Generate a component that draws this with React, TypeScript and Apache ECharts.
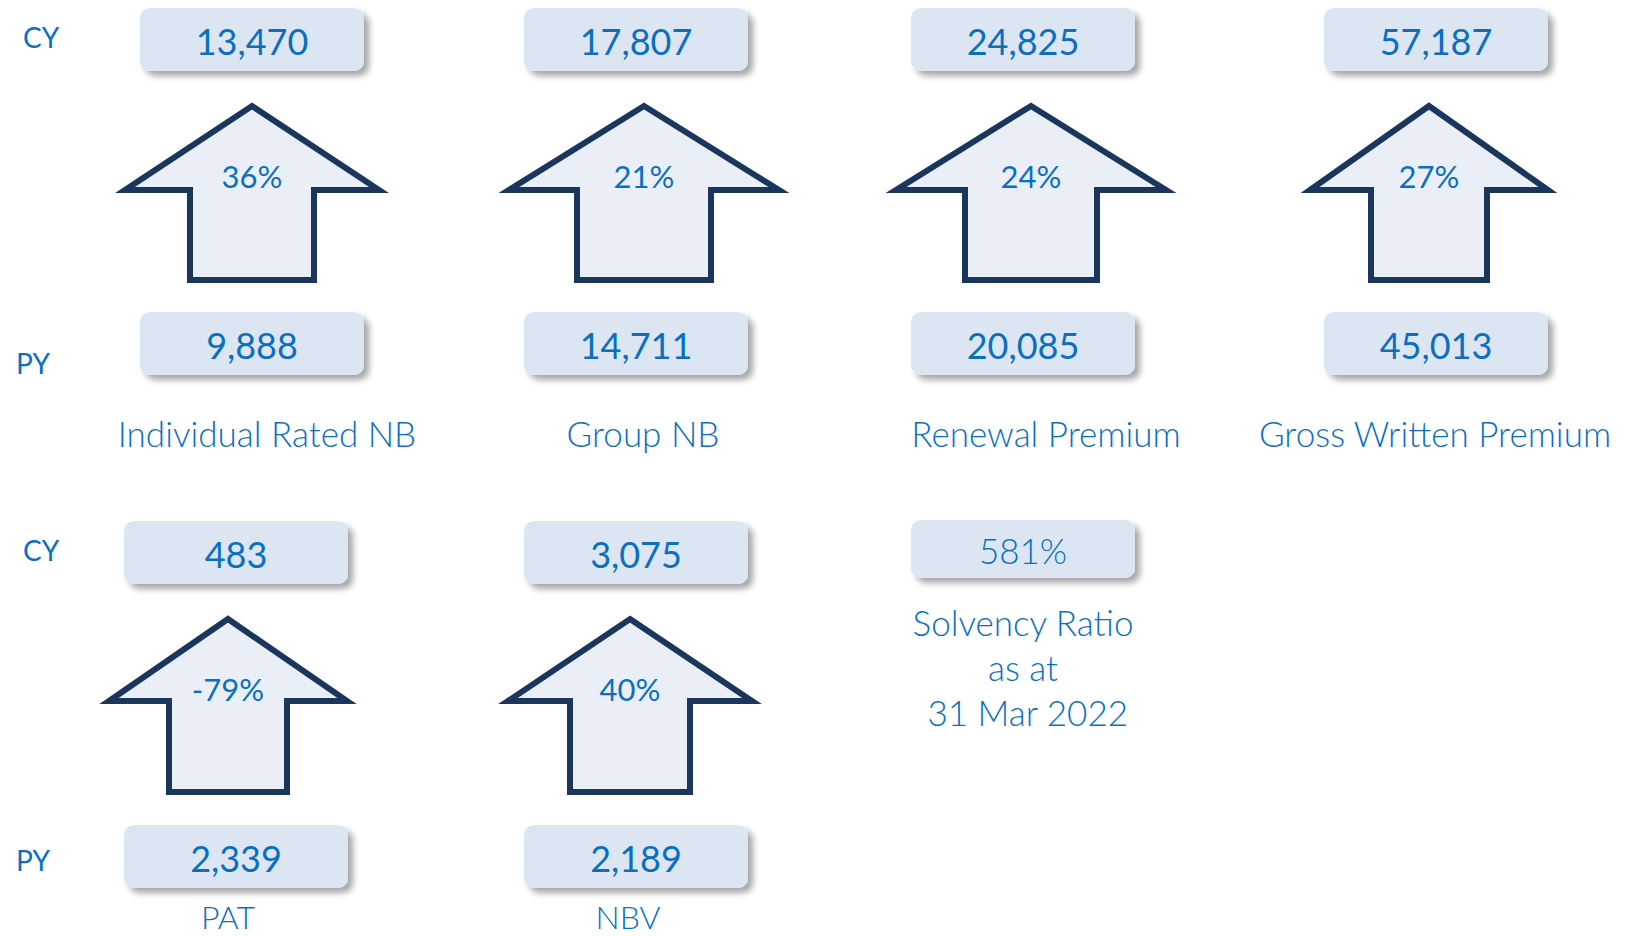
import React, { useEffect, useRef } from "react";
import * as echarts from "echarts";

// ---- data ----
const metricNames = ["Individual Rated NB", "Group NB", "Renewal Premium", "Gross Written Premium", "PAT", "NBV"];
const cyValues = ["13,470", "17,807", "24,825", "57,187", "483", "3,075"];
const pyValues = ["9,888", "14,711", "20,085", "45,013", "2,339", "2,189"];
const changes = ["36%", "21%", "24%", "27%", "-79%", "40%"];
const solvencyValue = "581%";
const solvencyLabel = "Solvency Ratio\nas at\n 31 Mar 2022";
const rowLabels = ["CY", "PY"];

// ---- layout (positions only) ----
const layout = [
  { box: 252, arrow: 252, half: 127, shaft: 62, label: 267, row: 0 },
  { box: 636, arrow: 644, half: 135, shaft: 67, label: 643, row: 0 },
  { box: 1023, arrow: 1031, half: 135, shaft: 66, label: 1046, row: 0 },
  { box: 1436, arrow: 1429, half: 119, shaft: 58, label: 1435, row: 0 },
  { box: 236, arrow: 228, half: 119, shaft: 59, label: 228, row: 1 },
  { box: 636, arrow: 630, half: 122, shaft: 60, label: 628, row: 1 },
];
const rows = [
  { cyTop: 8, pyTop: 312, tip: 106, base: 190, bottom: 280, pct: 176, label: 433, cyLbl: 37, pyLbl: 363 },
  { cyTop: 521, pyTop: 825, tip: 619, base: 701, bottom: 792, pct: 689, label: 916, cyLbl: 550, pyLbl: 860 },
];

const BLUE = "#0a6fc2";
const FONT = "Lato, 'Noto Sans', sans-serif";
const BOX_W = 224;
const BOX_H = 63;

function valueBox(cx: number, top: number, text: string, light = false, h = BOX_H) {
  return [
    {
      type: "rect",
      shape: { x: cx - BOX_W / 2, y: top, width: BOX_W, height: h, r: 10 },
      style: {
        fill: "#dce6f2",
        shadowBlur: 6,
        shadowOffsetX: 5,
        shadowOffsetY: 5,
        shadowColor: "rgba(0,0,0,0.35)",
      },
    },
    {
      type: "text",
      x: cx,
      y: top + h / 2 + 1,
      style: {
        text,
        fill: BLUE,
        font: `${light ? 300 : 400} ${light ? 35 : 36}px ${FONT}`,
        align: "center",
        verticalAlign: "middle",
      },
    },
  ];
}

function arrow(cx: number, half: number, shaft: number, r: any) {
  return {
    type: "polygon",
    shape: {
      points: [
        [cx, r.tip],
        [cx + half, r.base],
        [cx + shaft, r.base],
        [cx + shaft, r.bottom],
        [cx - shaft, r.bottom],
        [cx - shaft, r.base],
        [cx - half, r.base],
      ],
    },
    style: { fill: "#eaeff7", stroke: "#1b365d", lineWidth: 6, lineJoin: "miter", miterLimit: 20 },
  };
}

export default function App() {
  const ref = useRef<HTMLDivElement>(null);
  useEffect(() => {
    document.body.style.margin = "0";
    const chart = echarts.init(ref.current!, null, { renderer: "svg" });
    const elements: any[] = [];
    rows.forEach((r) => {
      elements.push({
        type: "text", x: 23, y: r.cyLbl,
        style: { text: rowLabels[0], fill: BLUE, font: `400 28px ${FONT}`, verticalAlign: "middle" },
      });
      elements.push({
        type: "text", x: 16, y: r.pyLbl,
        style: { text: rowLabels[1], fill: BLUE, font: `400 28px ${FONT}`, verticalAlign: "middle" },
      });
    });
    metricNames.forEach((name, i) => {
      const l = layout[i];
      const r = rows[l.row];
      elements.push(...valueBox(l.box, r.cyTop, cyValues[i]));
      elements.push(...valueBox(l.box, r.pyTop, pyValues[i]));
      elements.push(arrow(l.arrow, l.half, l.shaft, r));
      elements.push({
        type: "text", x: l.arrow, y: r.pct,
        style: { text: changes[i], fill: BLUE, font: `400 31px ${FONT}`, align: "center", verticalAlign: "middle" },
      });
      elements.push({
        type: "text", x: l.label, y: r.label,
        style: { text: name, fill: BLUE, font: `300 ${l.row === 1 ? 32 : 35}px ${FONT}`, align: "center", verticalAlign: "middle" },
      });
    });
    elements.push(...valueBox(1023, 520, solvencyValue, true, 58));
    elements.push({
      type: "text", x: 1023, y: 599,
      style: {
        text: solvencyLabel, fill: BLUE, font: `300 35px ${FONT}`, align: "center",
        verticalAlign: "top", lineHeight: 45,
      },
    });

    chart.setOption({
      animation: false,
      backgroundColor: "#ffffff",
      graphic: { elements },
    });
    return () => chart.dispose();
  }, []);
  return <div ref={ref} style={{ position: "fixed", left: 0, top: 0, width: 1626, height: 936 }} />;
}
